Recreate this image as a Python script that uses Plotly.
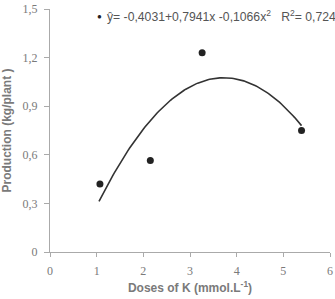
import numpy as np
import plotly.graph_objects as go

# Observed data
doses = [1.07, 2.15, 3.26, 5.39]
production = [0.42, 0.565, 1.23, 0.75]

# Fitted quadratic shown in the chart: y = b0 + b1 x + b2 x^2
coef = [-0.4031, 0.7941, -0.1066]
fit_range = [1.05, 5.39]

x_ticks = [0, 1, 2, 3, 4, 5, 6]
y_ticks = [0, 0.3, 0.6, 0.9, 1.2, 1.5]
y_tick_labels = ["0", "0,3", "0,6", "0,9", "1,2", "1,5"]

xf = np.linspace(fit_range[0], fit_range[1], 120)
yf = coef[0] + coef[1] * xf + coef[2] * xf ** 2

grey = "#7a7a7a"
fig = go.Figure()
fig.add_trace(go.Scatter(x=xf, y=yf, mode="lines",
                         line=dict(color="#333333", width=1.6),
                         hoverinfo="skip", showlegend=False))
fig.add_trace(go.Scatter(x=doses, y=production, mode="markers",
                         marker=dict(color="#222222", size=7),
                         showlegend=False))

fig.add_annotation(xref="paper", yref="paper", x=0.1785, y=0.97,
                   xanchor="center", yanchor="middle", showarrow=False,
                   text="●", font=dict(size=8, color="#222222"))
fig.add_annotation(xref="paper", yref="paper", x=0.197, y=0.97,
                   xanchor="left", yanchor="middle", showarrow=False,
                   text="ŷ= -0,4031+0,7941x -0,1066x<sup>2</sup>   R<sup>2</sup>= 0,7249",
                   font=dict(size=12.2, color="#555555", family="Liberation Sans, Arial"))

axis_common = dict(showgrid=False, zeroline=False,
                   showline=True, linecolor="#aaaaaa", linewidth=1,
                   ticks="outside", tickcolor="#aaaaaa",
                   tickfont=dict(size=12, color=grey, family="Liberation Serif, serif"),
                   ticklabeloverflow="allow")

fig.update_layout(
    width=335, height=299,
    margin=dict(l=50, r=2, t=8, b=47),
    paper_bgcolor="white", plot_bgcolor="white",
    font=dict(family="Liberation Sans, Arial", color=grey),
    xaxis=dict(range=[0, 6], tickvals=x_ticks, ticklen=4, ticklabelstandoff=4,
               title=dict(text="<b>Doses of K (mmol.L<sup>-1</sup>)</b>",
                          font=dict(size=12, color=grey), standoff=6),
               **axis_common),
    yaxis=dict(range=[0, 1.5], tickvals=y_ticks, ticktext=y_tick_labels,
               ticklen=5, ticklabelstandoff=4,
               title=dict(text="<b>Production (kg/plant )</b>",
                          font=dict(size=12, color=grey), standoff=8),
               **axis_common),
)

fig.write_html("out.html")
